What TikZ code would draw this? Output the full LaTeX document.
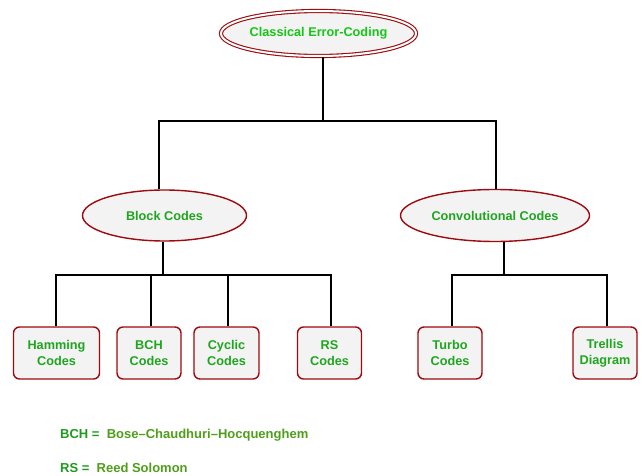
\documentclass[tikz,border=0pt]{standalone}
\usepackage{fontspec}
\setmainfont{Liberation Sans}
\usetikzlibrary{shapes.geometric}
\definecolor{bord}{HTML}{9E0B0F}
\definecolor{fillg}{HTML}{F3F3F3}
\definecolor{titleg}{HTML}{16C616}
\definecolor{txtg}{HTML}{1FA51F}
\definecolor{leg1}{HTML}{1F9A1F}
\definecolor{leg2}{HTML}{4E9E1A}
\tikzset{
  every node/.style={font=\fontsize{12.7}{16}\selectfont\bfseries},
  ell/.style={ellipse, draw=bord, line width=1.4pt, fill=fillg, text=txtg, inner sep=0pt},
  topell/.style={ell, double=white, double distance=2pt, line width=1.1pt, text=titleg},
  leaf/.style={draw=bord, line width=1.4pt, fill=fillg, text=txtg, rounded corners=6pt,
    minimum height=52pt, align=center, inner sep=0pt},
  conn/.style={line width=1.3pt, black},
  legA/.style={anchor=west, inner sep=0pt, text=leg1, font=\fontsize{13}{16}\selectfont\bfseries},
}
\begin{document}
\begin{tikzpicture}[x=1pt,y=-1pt]
\useasboundingbox (0,0) rectangle (642,476);
% nodes
\node[topell, minimum width=195pt, minimum height=45pt] (top) at (318.5,33.5) {\makebox[0pt]{Classical Error-Coding}};
\node[ell, minimum width=164pt, minimum height=51pt] (block) at (164.5,215.5) {\makebox[0pt]{Block Codes}};
\node[ell, minimum width=189pt, minimum height=52pt] (conv) at (495,215.5) {\makebox[0pt]{Convolutional Codes}};
\node[leaf, minimum width=86pt] (ham) at (56.5,353) {Hamming\\Codes};
\node[leaf, minimum width=64pt] (bch) at (149,353) {BCH\\Codes};
\node[leaf, minimum width=65pt] (cyc) at (226.5,353) {Cyclic\\Codes};
\node[leaf, minimum width=64pt] (rs) at (329.5,353) {RS\\Codes};
\node[leaf, minimum width=64pt] (turbo) at (450,353) {Turbo\\Codes};
\node[leaf, minimum width=64pt] (trel) at (605,353) {Trellis\\Diagram};
% junction coordinates
\coordinate (j0) at (323,121);
\coordinate (hA) at (159,121);
\coordinate (hB) at (496,121);
\coordinate (j1) at (163,275);
\coordinate (j2) at (504,275);
% connectors
\draw[conn] (top.south -| j0) -- (j0);
\draw[conn] (block.north -| hA) -- (hA) -- (hB) -- (conv.north -| hB);
\draw[conn] (block.south -| j1) -- (j1);
\draw[conn] ([xshift=-0.5pt]ham.north) -- ([xshift=-0.5pt]ham.north |- j1) -- ([xshift=1.5pt]rs.north |- j1) -- ([xshift=1.5pt]rs.north);
\draw[conn] ([xshift=2pt]bch.north) -- ([xshift=2pt]bch.north |- j1);
\draw[conn] ([xshift=1.5pt]cyc.north) -- ([xshift=1.5pt]cyc.north |- j1);
\draw[conn] (conv.south -| j2) -- (j2);
\draw[conn] ([xshift=2pt]turbo.north) -- ([xshift=2pt]turbo.north |- j2) -- ([xshift=2pt]trel.north |- j2) -- ([xshift=2pt]trel.north);
% legend
\node[legA] (l1) at (60,435) {BCH =\ \ \textcolor{leg2}{Bose–Chaudhuri–Hocquenghem}};
\node[legA] (l2) at (60,468) {RS =\ \ \textcolor{leg2}{Reed Solomon}};
\end{tikzpicture}
\end{document}
